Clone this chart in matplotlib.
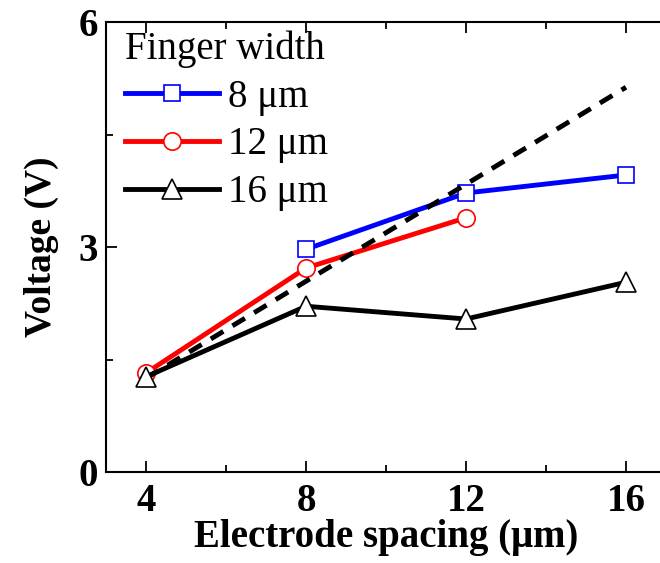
import matplotlib
matplotlib.use("Agg")
import matplotlib.pyplot as plt
from matplotlib.ticker import MultipleLocator

plt.rcParams['font.family'] = ['Liberation Serif', 'DejaVu Serif']
plt.rcParams['mathtext.fontset'] = 'stix'

# Electrode spacing (µm) and measured voltage per finger width
spacing_8 = [8, 12, 16]
voltage_8 = [2.97, 3.72, 3.96]
spacing_12 = [4, 8, 12]
voltage_12 = [1.32, 2.72, 3.39]
spacing_16 = [4, 8, 12, 16]
voltage_16 = [1.27, 2.21, 2.04, 2.53]
trend_x = [4, 16]
trend_y = [1.25, 5.13]

fig = plt.figure(figsize=(6.6, 5.63), dpi=100)
# the frame runs past the right edge of the figure
ax = fig.add_axes([106/660, 91/563, 580/660, 450/563])

ax.plot(trend_x, trend_y, color='black', lw=3.5, ls=(0, (3, 2.2)), zorder=4)
ax.plot(spacing_8, voltage_8, color='#0000ff', lw=3.5, marker='s', ms=11,
        mfc='white', mec='#0000ff', mew=1.2, label='8 μm', zorder=3)
ax.plot(spacing_12, voltage_12, color='#ff0000', lw=3.5, marker='o', ms=12.5,
        mfc='white', mec='#ff0000', mew=1.2, label='12 μm', zorder=3)
ax.plot(spacing_16, voltage_16, color='black', lw=3.5, marker='^', ms=15,
        mfc='white', mec='black', mew=1.2, label='16 μm', zorder=5)

ax.set_xlim(3, 17.5)
ax.set_ylim(0, 6)
ax.set_xticks([4, 8, 12, 16])
ax.set_yticks([0, 3, 6])
ax.xaxis.set_minor_locator(MultipleLocator(2))
ax.yaxis.set_minor_locator(MultipleLocator(1.5))
ax.tick_params(which='major', direction='in', length=8, width=1.3,
               labelsize=28, pad=6, top=True, right=False)
ax.tick_params(which='minor', direction='in', length=5, width=1.3,
               top=True, right=False)
ax.tick_params(axis='x', which='major', pad=8)
for lab in ax.get_xticklabels() + ax.get_yticklabels():
    lab.set_fontweight('bold')
for sp in ax.spines.values():
    sp.set_linewidth(1.5)

ax.set_xlabel('Electrode spacing (μm)', fontsize=28, fontweight='bold')
ax.xaxis.set_label_coords(0.4836, -0.105)
ax.set_ylabel('Voltage (V)', fontsize=27, fontweight='bold', labelpad=14)

leg = ax.legend(loc='upper left', bbox_to_anchor=(0.0, 1.025), frameon=False,
                title='Finger width', title_fontsize=28, fontsize=28,
                alignment='left', handlelength=2.4, handletextpad=0.25,
                labelspacing=0.28, borderpad=0.2, borderaxespad=0.3)

fig.savefig('out.png', dpi=100)
